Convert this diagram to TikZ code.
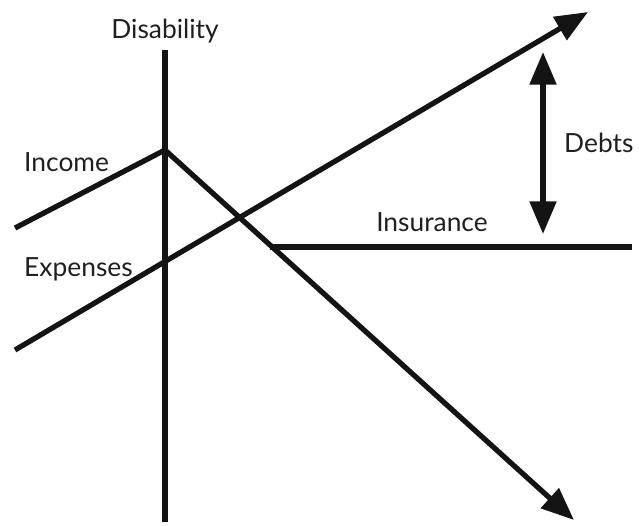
\documentclass[tikz,border=0pt]{standalone}
\usepackage{fontspec}
\setmainfont{Lato}
\usetikzlibrary{arrows.meta}
\tikzset{
	curve/.style={line width=4.5pt,line cap=butt,draw=black!92},
	head/.tip={Triangle[length=0.98cm,width=0.78cm]},
	tip/.style={-head},
	lbl/.style={inner sep=0pt,font=\fontsize{22.5}{26}\selectfont,text=black!88}
}
\begin{document}
\begin{tikzpicture}[x=0.03cm,y=-0.03cm]
	\useasboundingbox (0,0) rectangle (642,525);

	% axis of the event
	\coordinate (axis top) at (165,50);
	\coordinate (axis bottom) at (165,522);
	\draw [curve] (axis top) -- (axis bottom);
	\node [lbl,anchor=base] at (165,38) (disability) {Disability};

	% income
	\coordinate (income start) at (15,228);
	\coordinate (income peak) at (165,150);
	\coordinate (income end) at (574,520);
	\draw [curve,tip,line join=miter] (income start) -- (income peak) -- (income end);
	\node [lbl,anchor=base west] at (24,171) (income) {Income};

	% expenses
	\coordinate (expenses start) at (15,350);
	\coordinate (expenses end) at (588,12);
	\draw [curve,tip] (expenses start) -- (expenses end);
	\node [lbl,anchor=base west] at (24,276) (expenses) {Expenses};

	% insurance
	\coordinate (insurance start) at (270,247);
	\coordinate (insurance end) at (632,247);
	\draw [curve] (insurance start) -- (insurance end);
	\node [lbl,anchor=base] at (432,231) (insurance) {Insurance};

	% debts
	\coordinate (debts top) at (543,52);
	\coordinate (debts bottom) at (543,234);
	\draw [curve,head-head] (debts top) -- (debts bottom);
	\node [lbl,anchor=base west] at (564,152) (debts) {Debts};
\end{tikzpicture}
\end{document}
